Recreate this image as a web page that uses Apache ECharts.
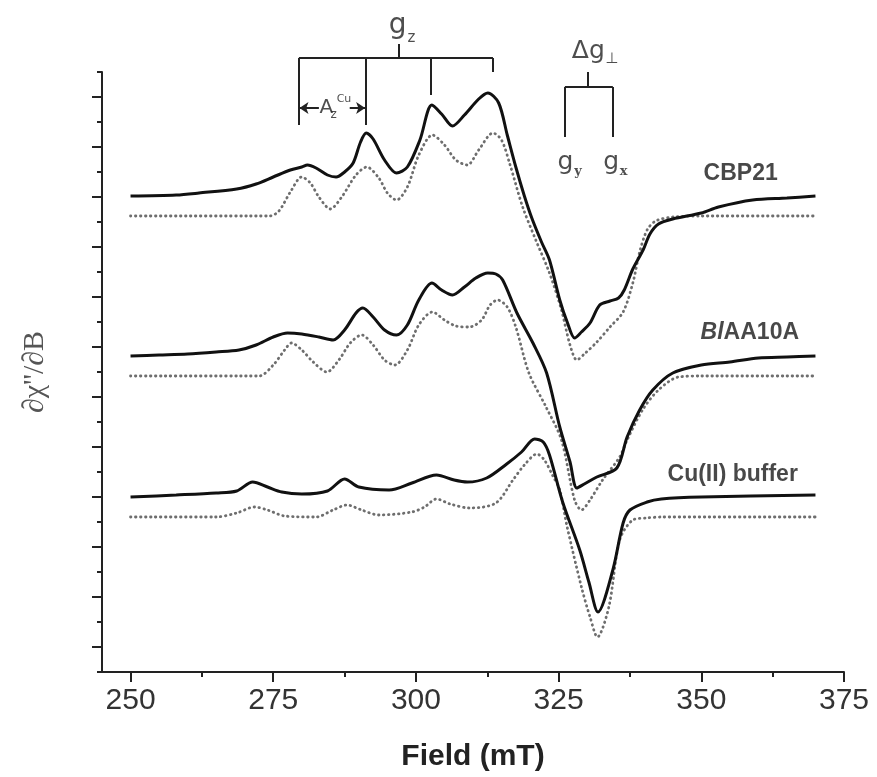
<!DOCTYPE html>
<html>
<head>
<meta charset="utf-8">
<script src="https://cdn.jsdelivr.net/npm/echarts@6/dist/echarts.min.js"></script>
<style>
  html, body { margin: 0; padding: 0; background: #fff; }
  #main { width: 877px; height: 777px; }
</style>
</head>
<body>
<div id="main"></div>
<script>
// field in mT, intensity in arbitrary units (traces are offset from each other)
const cbp21Exp = [[250,476],[258,477],[262,479],[268.6,483],[272,488],[275,495],[278,502],[280,505],[281,507],[282.5,504],[284.5,497],[286,495],[287.5,500],[289,509],[290.3,530],[291.3,539],[292.5,533],[294.5,512],[296.6,499],[298.5,505],[300.7,532],[302.8,567],[304.5,558],[306.4,546],[308.5,557],[311,573],[312.6,579],[314.5,569],[316,537],[317.5,505],[319,476],[320.3,454],[322,430],[323.4,412],[325.2,372],[326.5,350],[327.8,334],[329,340],[330.5,349],[332.2,367],[334,371],[335.5,374],[336.5,382],[338,403],[339.8,422],[341,438],[342.5,448],[345,453],[350,459],[353,465],[359,472],[365,474],[370,476]];
const cbp21Sim = [[250,456],[274.4,456],[276,461],[278,480],[280,495],[281.5,489],[283,475],[285,463],[287,475],[289.5,497],[291.4,505],[293.5,494],[295,479],[296.6,472],[298.5,485],[300.5,517],[302.9,537],[305,527],[307,512],[309,507],[311,522],[313.5,539],[315,532],[316.5,507],[318.7,465],[321,432],[323.4,399],[325.5,362],[327,327],[328.2,312],[329.5,318],[331.7,330],[334,345],[336.3,360],[338,389],[339.2,420],[340.5,442],[342,451],[345,455],[350,456],[370,456]];
const aa10aExp = [[250,316],[255,317],[260,318],[265,320],[269,322],[272,327],[275,335],[277.5,339],[280,338],[283,335],[285.5,332],[287.5,342],[289.5,359],[290.7,364],[292.5,355],[294.5,342],[296.6,337],[298.5,347],[300.5,372],[302.8,389],[304.5,382],[306.4,377],[308.5,385],[310.5,394],[312.6,399],[314,398],[315.2,392],[317.7,359],[320.5,329],[322.9,299],[325.2,245],[327,210],[328.2,184],[329.5,188],[331.7,195],[335.2,204],[337,235],[339.2,262],[341.5,282],[345,299],[350,307],[355,310],[360,314],[365,315],[370,316]];
const aa10aSim = [[250,296],[272.5,296],[275,307],[277,322],[278.2,329],[280,322],[282,310],[284.4,300],[286.5,312],[288.5,329],[290.5,337],[292.5,327],[294.5,312],[296.3,307],[298.5,322],[300.5,347],[302.9,360],[305,352],[307,346],[309.4,345],[311.5,352],[313,367],[314.3,372],[316,365],[317.5,345],[319.8,299],[322.8,265],[325.5,232],[327.8,172],[329,162],[330.5,172],[332.7,192],[335.7,215],[337,232],[339.7,262],[342.5,282],[346,295],[350,296],[370,296]];
const cuExp = [[250,175],[258,177],[265,179],[268.6,181],[271.4,190],[274,185],[276.5,180],[280,178],[284.5,181],[287.5,193],[290,185],[295.3,182],[299.3,189],[303.6,197],[306.7,192],[309,190],[312.4,194],[315.9,208],[318.5,220],[320.8,233],[322.3,230],[323.4,217],[325.7,170],[328.7,122],[330.3,90],[331.9,60],[334.5,102],[336.3,149],[337.5,162],[340.5,170],[343,173],[350,175],[370,177]];
const cuSim = [[250,155],[265,155],[268.6,159],[271.7,165],[274,162],[277,156],[282.5,155],[285.5,162],[287.9,167],[290.5,162],[293.5,157],[299.3,160],[301.5,165],[303.6,173],[306,168],[309.4,164],[314,169],[317,192],[319,207],[321.2,218],[322.5,212],[324,196],[325.2,182],[326.5,145],[329,85],[330.5,55],[331.8,35],[333.8,65],[335.7,132],[338,152],[340.4,154],[343,155],[370,155]];

const fieldTicks = [250, 275, 300, 325, 350, 375];
const fieldMinorTicks = [262.5, 287.5, 312.5, 337.5, 362.5];

// trace names and where they are written
const traceLabels = [
  { pos: [356.9, 498], text: '{b|CBP21}' },
  { pos: [358.5, 339], text: '{i|Bl}{b|AA10A}' },
  { pos: [355.5, 197], text: '{b|Cu(II) buffer}' }
];

// g-value brackets (field, intensity)
const gzBracket = [
  [[279.5, 614], [313.5, 614]],
  [[279.5, 614], [279.5, 547]],
  [[291.2, 614], [291.2, 547]],
  [[302.6, 614], [302.6, 577]],
  [[313.5, 614], [313.5, 600]],
  [[297.0, 614], [297.0, 628]]
];
const gPerpBracket = [
  [[326.1, 585], [334.5, 585]],
  [[326.1, 585], [326.1, 535]],
  [[334.5, 585], [334.5, 535]],
  [[330.1, 585], [330.1, 600]]
];
const azArrows = [
  [[283.0, 564], [279.6, 564]],
  [[288.4, 564], [291.1, 564]]
];
const annoTexts = [
  { pos: [296.8, 646], text: 'g', size: 28 },
  { pos: [299.2, 634], text: 'z', size: 15 },
  { pos: [284.3, 564], text: 'A', size: 20 },
  { pos: [285.6, 557], text: 'z', size: 12 },
  { pos: [287.4, 573], text: 'Cu', size: 11 },
  { pos: [330.2, 621], text: 'Δg', size: 25 },
  { pos: [334.3, 613], text: '⊥', size: 15 },
  { pos: [326.2, 510], text: 'g', size: 25 },
  { pos: [328.4, 500], text: 'y', size: 13, serif: true },
  { pos: [334.2, 510], text: 'g', size: 25 },
  { pos: [336.4, 500], text: 'x', size: 13, serif: true }
];

const chart = echarts.init(document.getElementById('main'), null, { renderer: 'canvas' });

function expSeries(name, data) {
  return {
    name: name, type: 'line', data: data, showSymbol: false, smooth: 0.3,
    lineStyle: { color: '#111', width: 3 }, z: 3
  };
}
function simSeries(name, data) {
  return {
    name: name, type: 'line', data: data, showSymbol: false, smooth: 0.3,
    lineStyle: { color: '#6e6e6e', width: 2.8, type: [0.5, 4.5], cap: 'round' }, z: 2
  };
}
function bracketSeries(segs, arrow) {
  return {
    type: 'lines', coordinateSystem: 'cartesian2d', clip: false,
    symbol: arrow ? ['none', 'arrow'] : 'none', symbolSize: 9,
    lineStyle: { color: '#222', width: 2, opacity: 1 },
    data: segs.map(function (s) { return { coords: s }; }), z: 4
  };
}

const option = {
  animation: false,
  backgroundColor: '#fff',
  grid: { left: 102, right: 33, top: 72, bottom: 105 },
  xAxis: [
    {
      type: 'value', min: 245, max: 375,
      name: 'Field (mT)', nameLocation: 'middle', nameGap: 70,
      nameTextStyle: { fontFamily: 'Liberation Sans', fontWeight: 'bold', fontSize: 30, color: '#222' },
      axisLine: { lineStyle: { color: '#222', width: 2 } },
      axisTick: { show: true, length: 10, customValues: fieldTicks, lineStyle: { color: '#222', width: 2 } },
      axisLabel: { customValues: fieldTicks, margin: 14, fontFamily: 'Liberation Sans', fontSize: 30, color: '#333' },
      splitLine: { show: false }
    },
    {
      type: 'value', min: 245, max: 375, position: 'bottom', gridIndex: 0,
      axisLine: { show: false },
      axisTick: { show: true, length: 5, customValues: fieldMinorTicks, lineStyle: { color: '#222', width: 2 } },
      axisLabel: { show: false },
      splitLine: { show: false }
    }
  ],
  yAxis: {
    type: 'value', min: 0, max: 600, interval: 50,
    name: '∂χ\'\'/∂B', nameLocation: 'middle', nameGap: 52,
    nameTextStyle: { fontFamily: 'Liberation Serif', fontSize: 30, color: '#555' },
    axisLine: { show: true, lineStyle: { color: '#222', width: 2 } },
    axisTick: { show: true, length: 5, lineStyle: { color: '#222', width: 2 } },
    minorTick: { show: true, splitNumber: 2, length: 10, lineStyle: { color: '#222', width: 2 } },
    axisLabel: { show: false },
    splitLine: { show: false }
  },
  series: [
    simSeries('CBP21 sim', cbp21Sim),
    expSeries('CBP21', cbp21Exp),
    simSeries('BlAA10A sim', aa10aSim),
    expSeries('BlAA10A', aa10aExp),
    simSeries('Cu(II) sim', cuSim),
    expSeries('Cu(II) buffer', cuExp),
    bracketSeries(gzBracket, false),
    bracketSeries(gPerpBracket, false),
    bracketSeries(azArrows, true),
    {
      type: 'scatter', symbolSize: 0, clip: false, z: 5,
      data: traceLabels.map(function (t) {
        return {
          value: t.pos,
          label: {
            show: true, position: 'inside', formatter: t.text,
            rich: {
              b: { fontFamily: 'Liberation Sans', fontWeight: 'bold', fontSize: 23, color: '#1a1a1a' },
              i: { fontFamily: 'Liberation Sans', fontWeight: 'bold', fontStyle: 'italic', fontSize: 23, color: '#1a1a1a' }
            }
          }
        };
      })
    },
    {
      type: 'scatter', symbolSize: 0, clip: false, z: 5,
      data: annoTexts.map(function (t) {
        return {
          value: t.pos,
          label: {
            show: true, position: 'inside', formatter: t.text,
            fontFamily: t.serif ? 'DejaVu Serif' : 'DejaVu Sans',
            fontWeight: t.serif ? 'bold' : 'normal',
            fontSize: t.size, color: '#222'
          }
        };
      })
    }
  ]
};

chart.setOption(option);
</script>
</body>
</html>
